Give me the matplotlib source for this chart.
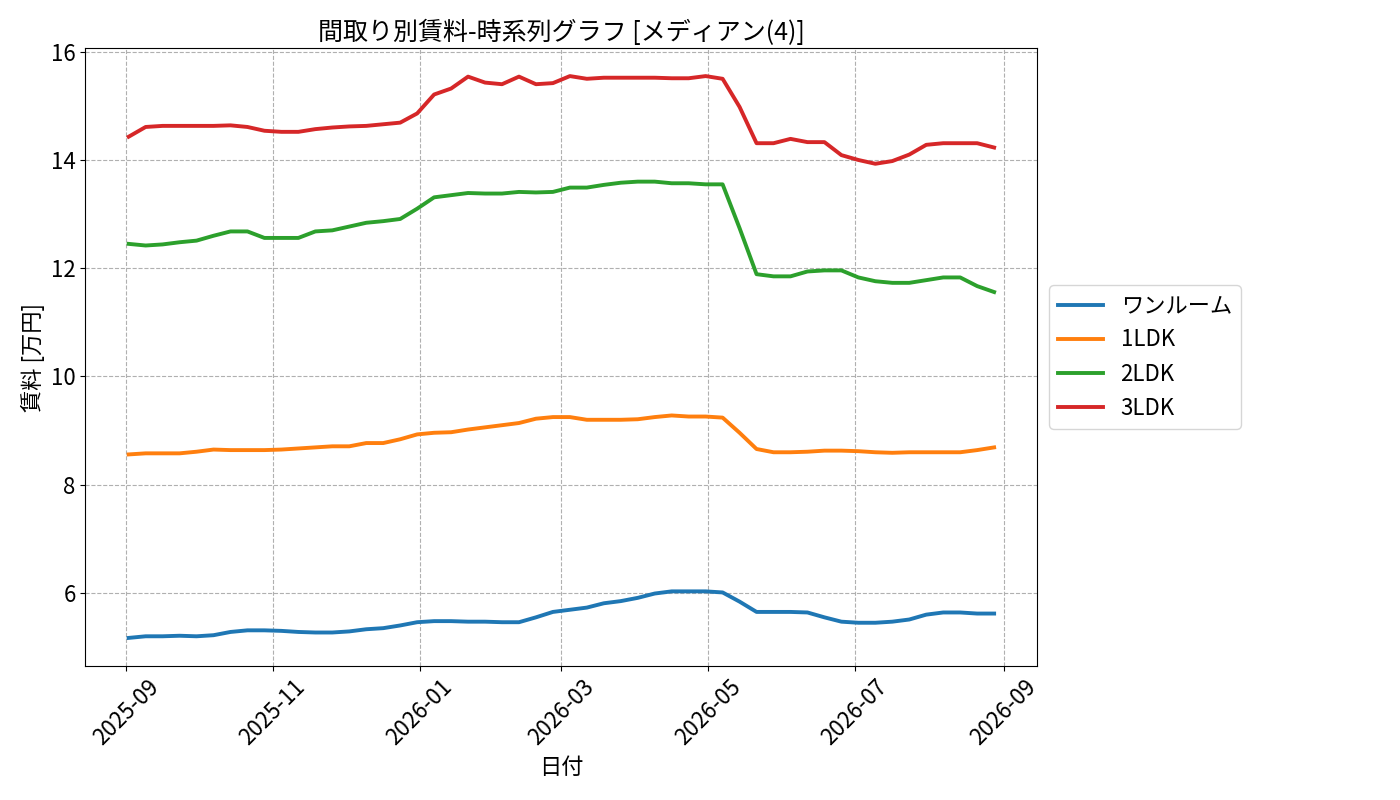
import numpy as np
import pandas as pd
import matplotlib
matplotlib.use("Agg")
import matplotlib.pyplot as plt
import matplotlib.dates as mdates

plt.rcParams['font.family'] = ['Noto Sans CJK JP', 'DejaVu Sans']

# 観測日 (ほぼ週次)
dates = pd.date_range("2025-09-02", "2026-08-28", periods=52)

room_types = ["ワンルーム", "1LDK", "2LDK", "3LDK"]

one_room = [5.17, 5.20, 5.20, 5.21, 5.20, 5.22, 5.28, 5.31, 5.31, 5.30,
            5.28, 5.27, 5.27, 5.29, 5.33, 5.35, 5.40, 5.46, 5.48, 5.48,
            5.47, 5.47, 5.46, 5.46, 5.55, 5.65, 5.69, 5.73, 5.81, 5.85,
            5.91, 5.99, 6.03, 6.03, 6.03, 6.01, 5.84, 5.65, 5.65, 5.65,
            5.64, 5.55, 5.47, 5.45, 5.45, 5.47, 5.51, 5.60, 5.64, 5.64,
            5.62, 5.62]

ldk1 = [8.56, 8.58, 8.58, 8.58, 8.61, 8.65, 8.64, 8.64, 8.64, 8.65,
        8.67, 8.69, 8.71, 8.71, 8.77, 8.77, 8.84, 8.93, 8.96, 8.97,
        9.02, 9.06, 9.10, 9.14, 9.22, 9.25, 9.25, 9.20, 9.20, 9.20,
        9.21, 9.25, 9.28, 9.26, 9.26, 9.24, 8.96, 8.66, 8.60, 8.60,
        8.61, 8.63, 8.63, 8.62, 8.60, 8.59, 8.60, 8.60, 8.60, 8.60,
        8.64, 8.69]

ldk2 = [12.45, 12.42, 12.44, 12.48, 12.51, 12.60, 12.68, 12.68, 12.56, 12.56,
        12.56, 12.68, 12.70, 12.77, 12.84, 12.87, 12.91, 13.10, 13.31, 13.35,
        13.39, 13.38, 13.38, 13.41, 13.40, 13.41, 13.49, 13.49, 13.54, 13.58,
        13.60, 13.60, 13.57, 13.57, 13.55, 13.55, 12.74, 11.89, 11.85, 11.85,
        11.94, 11.96, 11.96, 11.83, 11.76, 11.73, 11.73, 11.78, 11.83, 11.83,
        11.67, 11.56]

ldk3 = [14.43, 14.61, 14.63, 14.63, 14.63, 14.63, 14.64, 14.61, 14.54, 14.52,
        14.52, 14.57, 14.60, 14.62, 14.63, 14.66, 14.69, 14.86, 15.21, 15.32,
        15.54, 15.43, 15.40, 15.54, 15.40, 15.42, 15.55, 15.50, 15.52, 15.52,
        15.52, 15.52, 15.51, 15.51, 15.55, 15.50, 14.98, 14.31, 14.31, 14.39,
        14.33, 14.33, 14.09, 14.00, 13.93, 13.98, 14.10, 14.28, 14.31, 14.31,
        14.31, 14.23]

series = [one_room, ldk1, ldk2, ldk3]

fig, ax = plt.subplots(figsize=(14, 8), dpi=100)
fig.subplots_adjust(left=0.061, right=0.741, top=0.94, bottom=0.1675)

for name, vals in zip(room_types, series):
    ax.plot(dates, vals, linewidth=2.8, label=name)

ax.set_title("間取り別賃料-時系列グラフ [メディアン(4)]", fontsize=18)
ax.set_xlabel("日付", fontsize=16)
ax.set_ylabel("賃料 [万円]", fontsize=16)
ax.xaxis.set_major_locator(mdates.MonthLocator(bymonth=[1, 3, 5, 7, 9, 11]))
ax.xaxis.set_major_formatter(mdates.DateFormatter("%Y-%m"))
ax.tick_params(axis='both', labelsize=16)
plt.setp(ax.get_xticklabels(), rotation=45)
ax.grid(True, linestyle='--', color='#b0b0b0', linewidth=0.8)
ax.legend(loc='center left', bbox_to_anchor=(1.001, 0.5), fontsize=16)

fig.savefig("out.png", dpi=100)
